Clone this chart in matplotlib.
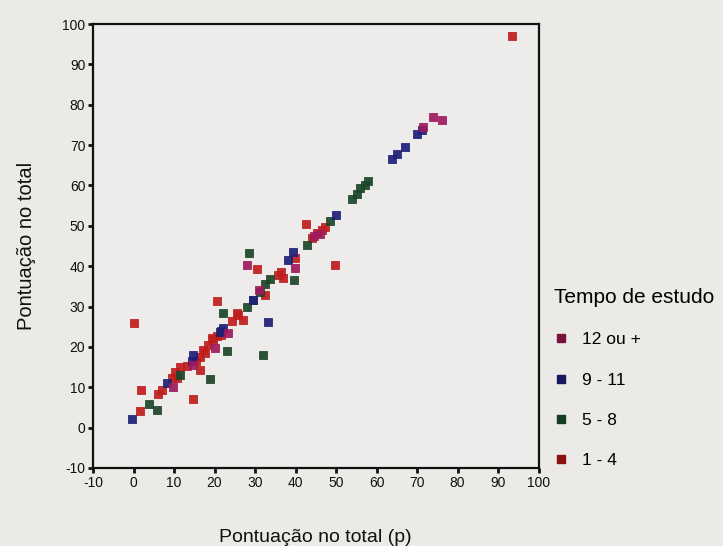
import matplotlib
matplotlib.use("Agg")
import matplotlib.pyplot as plt
from matplotlib.lines import Line2D

plt.rcParams['font.family'] = ['Liberation Sans', 'DejaVu Sans']

# Pontuação no total (p) vs Pontuação no total, por tempo de estudo
x_1_4 = [93.5, 0, 1.8, 1.6, 6.1, 7, 14.8, 9.4, 10.2, 10.7, 11.5, 13.1, 16.4, 16.4, 17.2, 18.5, 19.7,
         20.5, 17.7, 19.3, 20.7, 24.2, 25.9, 27.1, 25.5, 32.5, 35.8, 37, 36.5, 30.6, 39.9, 42.6,
         44, 45.2, 46.5, 47.3, 49.8, 15.5, 21.5]
y_1_4 = [97, 26, 9.4, 4.2, 8.4, 9.4, 7.1, 12.3, 13.9, 12.3, 15, 15.3, 14.4, 17.6, 19.3, 20.5, 21.8,
         22.6, 18.5, 22.2, 31.3, 26.3, 28, 26.7, 28.5, 32.9, 37.9, 37.1, 38.5, 39.3, 42, 50.4,
         47, 48.2, 49, 49.8, 40.4, 16.5, 23]

x_5_8 = [3.9, 5.7, 18.9, 23, 31.9, 22, 28.5, 28, 29.6, 31.2, 32.5, 33.7, 39.7, 42.8, 48.5, 53.9,
         55.1, 55.9, 57.2, 58, 11.5, 21.5]
y_5_8 = [5.9, 4.3, 12.1, 19.1, 18.1, 28.4, 43.3, 30, 31.7, 33.5, 35.5, 36.8, 36.6, 45.3, 51.1, 56.6,
         58, 59.3, 60.1, 61, 13, 24]

x_9_11 = [-0.4, 8.2, 14.4, 14.8, 21.4, 22.2, 29.5, 33.3, 38.2, 39.5, 50, 63.8, 65, 67, 69.9, 71.2]
y_9_11 = [2.2, 11.1, 16.4, 18.1, 23.8, 24.7, 31.5, 26.1, 41.6, 43.6, 52.7, 66.5, 67.8, 69.5, 72.8, 73.8]

x_12 = [9.8, 14.8, 20.1, 23.4, 28, 39.9, 44.5, 46, 31, 71.6, 73.9, 76.1]
y_12 = [10.1, 15.6, 19.7, 23.4, 40.3, 39.5, 47.5, 48, 34, 74.6, 76.9, 76.1]

groups = ['12 ou +', '9 - 11', '5 - 8', '1 - 4']
colors = ['#9e1a5c', '#1f1f78', '#1b4629', '#bf1d1d']
legend_colors = ['#7a1040', '#16185e', '#143c22', '#8c1010']

xticks = list(range(-10, 101, 10))
yticks = list(range(-10, 101, 10))

bg = '#ebeae7'
fig = plt.figure(figsize=(7.23, 5.46), dpi=100, facecolor=bg)
ax = fig.add_axes([93 / 723, 1 - 468 / 546, 445.5 / 723, 444 / 546], facecolor='#edecea')

series = [(x_12, y_12), (x_9_11, y_9_11), (x_5_8, y_5_8), (x_1_4, y_1_4)]
# draw the low-schooling group first so the others sit on top where they overlap
for (xs, ys), c in reversed(list(zip(series, colors))):
    ax.scatter(xs, ys, marker='s', s=40, color=c, edgecolors=c, linewidths=0.6, alpha=0.92, zorder=3)

ax.set_xlim(-10, 100)
ax.set_ylim(-10, 100)
ax.set_xticks(xticks)
ax.set_yticks(yticks)
ax.set_xticklabels([str(t) for t in xticks])
ax.set_yticklabels([str(t) for t in yticks])
ax.tick_params(axis='both', direction='out', length=3.5, width=2, colors='#111111',
               labelsize=10, pad=2)
for sp in ax.spines.values():
    sp.set_linewidth(1.6)
    sp.set_color('#111111')

ax.set_xlabel('Pontuação no total (p)', fontsize=14, color='#111111', labelpad=28)
ax.set_ylabel('Pontuação no total', fontsize=14.5, color='#111111', labelpad=19)

handles = [Line2D([0], [0], marker='s', linestyle='none', markersize=5.5,
                  markerfacecolor=c, markeredgecolor=c) for c in legend_colors]
leg = fig.legend(handles, groups, title='Tempo de estudo', loc='upper left',
                 bbox_to_anchor=(547 / 723, 1 - 281 / 546), frameon=False,
                 fontsize=12.5, title_fontsize=15, labelspacing=1.45,
                 handlelength=0.8, handletextpad=0.8, borderaxespad=0)
leg._legend_box.align = 'left'

fig.savefig('out.png', dpi=100, facecolor=bg)
